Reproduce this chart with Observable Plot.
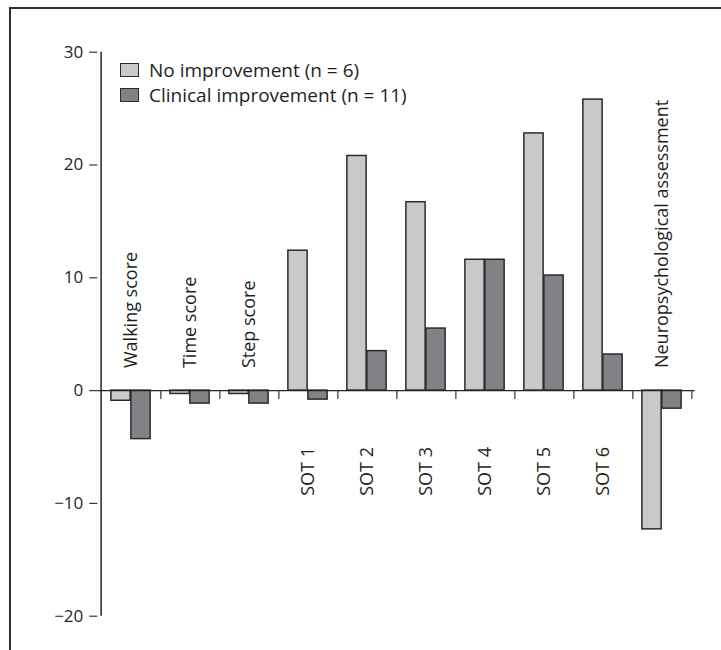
<!DOCTYPE html>
<html>
<head>
<meta charset="utf-8">
<script src="https://cdn.jsdelivr.net/npm/d3@7"></script>
<script src="https://cdn.jsdelivr.net/npm/@observablehq/plot@0.6"></script>
<style>
  body { margin: 0; background: #fff; }
  #wrap { position: relative; width: 721px; height: 650px; overflow: hidden; font-family: "Open Sans", sans-serif; color: #231f20; }
  #border { position: absolute; left: 9px; top: 7px; right: -4px; bottom: -4px; border-top: 2px solid #2e2e2e; border-left: 2px solid #2e2e2e; pointer-events: none; }
  #legend { position: absolute; left: 120px; top: 62.5px; font-size: 19px; }
  #legend .row { display: flex; align-items: center; height: 14px; margin-bottom: 11px; }
  #legend .sw { width: 18.5px; height: 14px; box-sizing: border-box; border: 1.6px solid #2b2b2b; margin-right: 10.5px; }
  #legend .lbl { white-space: nowrap; }
</style>
</head>
<body>
<div id="wrap"><div id="border"></div></div>
<script>
// Mean change per measure, by outcome group
const categories = ["Walking score", "Time score", "Step score", "SOT 1", "SOT 2", "SOT 3", "SOT 4", "SOT 5", "SOT 6", "Neuropsychological assessment"];
const noImprovement = [-0.9, -0.3, -0.3, 12.4, 20.8, 16.7, 11.6, 22.8, 25.8, -12.3];
const clinicalImprovement = [-4.3, -1.15, -1.15, -0.8, 3.5, 5.5, 11.6, 10.2, 3.2, -1.6];
const seriesNames = ["No improvement (n = 6)", "Clinical improvement (n = 11)"];
const seriesColors = ["#c8c9cb", "#808285"];
const yTicks = [-20, -10, 0, 10, 20, 30];
// Measures whose name is written beneath the zero line
const labelsBelow = ["SOT 1", "SOT 2", "SOT 3", "SOT 4", "SOT 5", "SOT 6"];

const rows = categories.flatMap((c, i) => [
  {category: c, series: seriesNames[0], value: noImprovement[i]},
  {category: c, series: seriesNames[1], value: clinicalImprovement[i]}
]);

const W = 721, H = 650;
const mL = 97.3, mR = 26.3, mT = 51.7, mB = 34.3;
const band = (W - mL - mR) / categories.length;
const half = band / 2;
const barW = 20;
const ink = "#2b2b2b";

const plot = Plot.plot({
  width: W,
  height: H,
  marginLeft: mL,
  marginRight: mR,
  marginTop: mT,
  marginBottom: mB,
  style: {fontFamily: "'Open Sans', sans-serif", fontSize: "17px", color: "#231f20", background: "transparent"},
  x: {domain: categories, padding: 0, axis: null},
  y: {domain: [-20, 30], axis: null},
  color: {domain: seriesNames, range: seriesColors},
  marks: [
    Plot.axisY({ticks: yTicks, label: null, tickSize: 8, tickPadding: 6.5, fontSize: 17, stroke: "#333", strokeWidth: 1.2}),
    // vertical axis line at the left edge of the first group
    Plot.ruleX([categories[0]], {x: d => d, dx: -half, stroke: "#333", strokeWidth: 1.6}),
    Plot.barY(rows.filter(d => d.series === seriesNames[0]), {
      x: "category", y: "value", fill: "series", stroke: ink, strokeWidth: 1.5,
      insetLeft: half - barW, insetRight: half
    }),
    Plot.barY(rows.filter(d => d.series === seriesNames[1]), {
      x: "category", y: "value", fill: "series", stroke: ink, strokeWidth: 1.5,
      insetLeft: half, insetRight: half - barW
    }),
    Plot.ruleY([0], {stroke: "#222", strokeWidth: 1.4}),
    // short ticks hanging below the zero line between groups
    Plot.ruleX(categories, {x: d => d, y1: 0, y2: 0, dx: half, insetBottom: -9, stroke: "#333", strokeWidth: 1.2}),
    Plot.text(categories.filter(c => !labelsBelow.includes(c)), {
      x: d => d, y: 2, text: d => d, rotate: -90, textAnchor: "start", fontSize: 18, fill: "#231f20"
    }),
    Plot.text(labelsBelow, {
      x: d => d, y: -5, text: d => d, rotate: -90, textAnchor: "end", fontSize: 18, fill: "#231f20"
    })
  ]
});

const wrap = document.getElementById("wrap");
plot.style.position = "absolute";
plot.style.left = "0";
plot.style.top = "0";
wrap.insertBefore(plot, wrap.firstChild);

// Legend drawn from the plot's colour scale
const color = plot.scale("color");
const legend = document.createElement("div");
legend.id = "legend";
color.domain.forEach((name, i) => {
  const row = document.createElement("div");
  row.className = "row";
  const sw = document.createElement("span");
  sw.className = "sw";
  sw.style.background = color.range[i];
  const lbl = document.createElement("span");
  lbl.className = "lbl";
  lbl.textContent = name;
  row.append(sw, lbl);
  legend.append(row);
});
wrap.append(legend);
</script>
</body>
</html>
